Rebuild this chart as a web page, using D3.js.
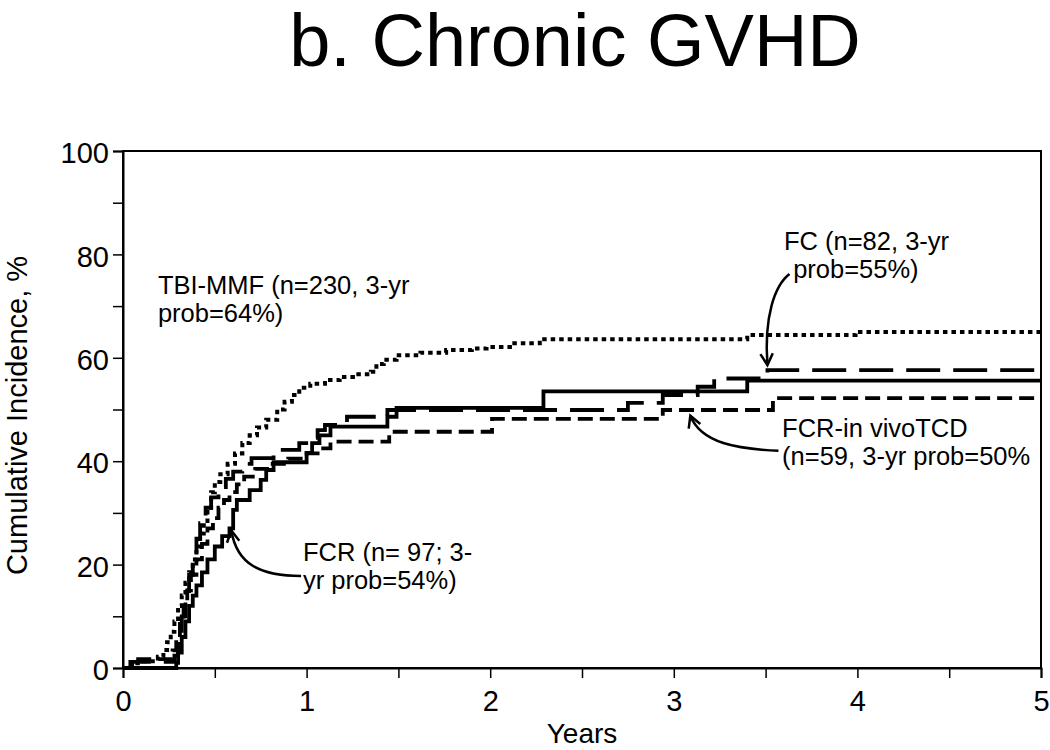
<!DOCTYPE html>
<html>
<head>
<meta charset="utf-8">
<script src="https://cdn.jsdelivr.net/npm/d3@7"></script>
<style>
  html, body { margin: 0; padding: 0; background: #fff; }
  svg { display: block; font-family: Arial, "Liberation Sans", Helvetica, sans-serif; }
</style>
</head>
<body>
<svg id="chart" width="1050" height="750"></svg>
<script>
// ---------------- DATA ----------------
const title = "b. Chronic GVHD";
const yTicks = [0, 10, 20, 30, 40, 50, 60, 70, 80, 90, 100];
const yTickLabels = ["0", "", "20", "", "40", "", "60", "", "80", "", "100"];
const xTicks = [0, 0.5, 1, 1.5, 2, 2.5, 3, 3.5, 4, 4.5, 5];
const xTickLabels = ["0", "", "1", "", "2", "", "3", "", "4", "", "5"];

// TBI-MMF (dotted)
const tbiTime = [0, 0.03, 0.06, 0.10, 0.19, 0.22, 0.24, 0.26, 0.28, 0.30, 0.32, 0.34, 0.36, 0.38, 0.40, 0.42, 0.44, 0.46, 0.48, 0.50, 0.53, 0.57, 0.61, 0.65, 0.69, 0.73, 0.78, 0.84, 0.88, 0.92, 0.96, 1.02, 1.10, 1.18, 1.27, 1.35, 1.38, 1.42, 1.49, 1.62, 1.76, 1.90, 1.98, 2.12, 2.27, 3.40, 3.99];
const tbiInc  = [0, 0.4, 0.9, 1.3, 2.2, 3.5, 5, 7, 9, 12, 14, 16.5, 18.5, 21, 23.5, 26, 28, 31, 34, 36, 37.5, 39.5, 41.5, 43.5, 45, 46.5, 48, 50, 51.5, 52.8, 54.2, 55, 55.7, 56.3, 56.8, 57.3, 58.8, 59.6, 60.5, 61, 61.5, 61.8, 62.1, 62.8, 63.6, 64.4, 65.0];

// FC (long dash)
const fcTime = [0, 0.04, 0.28, 0.30, 0.32, 0.34, 0.36, 0.38, 0.40, 0.42, 0.45, 0.48, 0.52, 0.56, 0.60, 0.65, 0.70, 0.82, 0.96, 1.02, 1.06, 1.10, 1.22, 1.44, 2.75, 2.94, 3.13, 3.22, 3.51];
const fcInc  = [0, 1.2, 2.4, 6, 10, 14, 18, 21, 25, 28, 31, 33, 35, 36.6, 38, 39.5, 40.6, 42.2, 43.5, 44.5, 46, 47, 48.6, 49.9, 51.3, 52.8, 54.4, 56.0, 57.6];

// FCR (solid)
const fcrTime = [0, 0.29, 0.30, 0.32, 0.34, 0.36, 0.38, 0.40, 0.43, 0.46, 0.50, 0.54, 0.58, 0.60, 0.62, 0.69, 0.75, 0.78, 0.82, 1.00, 1.03, 1.07, 1.13, 1.44, 1.49, 2.29, 3.40];
const fcrInc  = [0, 1, 3, 6, 9, 12, 14, 16, 18.5, 21, 23.5, 25.5, 27, 30.6, 32.5, 34.4, 36.4, 38.3, 39.8, 41.6, 43.5, 45, 46.7, 48.6, 50.3, 53.5, 55.6];

// FCR-in vivoTCD (short dash)
const tcdTime = [0, 0.05, 0.27, 0.29, 0.31, 0.33, 0.35, 0.37, 0.40, 0.43, 0.46, 0.49, 0.52, 0.55, 0.58, 0.62, 0.66, 0.72, 0.80, 0.90, 1.00, 1.06, 1.13, 1.45, 2.01, 2.94, 3.54];
const tcdInc  = [0, 1.7, 3.4, 6, 9, 12, 15, 18, 21, 24, 27, 29, 31, 32.5, 34, 35.5, 37, 38.5, 39.5, 40.5, 41.5, 42.5, 43.8, 45.7, 48.2, 49.9, 52.2];

const seriesNames = ["TBI-MMF", "FC", "FCR", "FCR-in vivoTCD"];

// ---------------- CHART ----------------
const svg = d3.select("#chart");
const x = d3.scaleLinear().domain([0, 5]).range([123, 1041]);
const y = d3.scaleLinear().domain([0, 100]).range([668, 151]);

// title
svg.append("text")
  .attr("x", 575).attr("y", 66)
  .attr("text-anchor", "middle")
  .attr("font-size", 74)
  .text(title);

// frame
svg.append("rect")
  .attr("x", x(0)).attr("y", y(100))
  .attr("width", x(5) - x(0)).attr("height", y(0) - y(100))
  .attr("fill", "none").attr("stroke", "#000").attr("stroke-width", 2);

// y axis
const yAxis = d3.axisLeft(y).tickValues(yTicks).tickSize(10).tickPadding(4)
  .tickFormat((d, i) => yTickLabels[i]);
const gy = svg.append("g").attr("transform", `translate(${x(0)},0)`).call(yAxis);
gy.select(".domain").attr("stroke-width", 2);
gy.selectAll(".tick line").attr("stroke-width", 1.5);
gy.selectAll(".tick text").attr("font-size", 29).attr("dy", "0.4em").attr("font-family", "Arial, 'Liberation Sans', sans-serif").attr("fill", "#000");

// x axis
const xAxis = d3.axisBottom(x).tickValues(xTicks).tickSize(10).tickPadding(12)
  .tickFormat((d, i) => xTickLabels[i]);
const gx = svg.append("g").attr("transform", `translate(0,${y(0)})`).call(xAxis);
gx.select(".domain").attr("stroke-width", 2);
gx.selectAll(".tick line").attr("stroke-width", 1.5);
gx.selectAll(".tick text").attr("font-size", 29).attr("font-family", "Arial, 'Liberation Sans', sans-serif").attr("fill", "#000");

// axis titles
svg.append("text")
  .attr("x", 582).attr("y", 743)
  .attr("text-anchor", "middle").attr("font-size", 28)
  .text("Years");
svg.append("text")
  .attr("transform", `translate(27,${(y(0) + y(100)) / 2 + 6}) rotate(-90)`)
  .attr("text-anchor", "middle").attr("font-size", 29)
  .text("Cumulative Incidence, %");

// curves
function toPoints(ts, ps) {
  const pts = ts.map((t, i) => [t, ps[i]]);
  pts.push([5, ps[ps.length - 1]]);
  return pts;
}
const line = d3.line().x(d => x(d[0])).y(d => y(d[1])).curve(d3.curveStepAfter);

const series = [
  { name: seriesNames[2], pts: toPoints(fcrTime, fcrInc), dash: null, w: 3.8 },
  { name: seriesNames[3], pts: toPoints(tcdTime, tcdInc), dash: "15,7", w: 3.8 },
  { name: seriesNames[1], pts: toPoints(fcTime, fcInc), dash: "34,13", w: 3.8 },
  { name: seriesNames[0], pts: toPoints(tbiTime, tbiInc), dash: "4.5,4", w: 4 }
];
svg.append("g").selectAll("path").data(series).join("path")
  .attr("d", d => line(d.pts))
  .attr("fill", "none")
  .attr("stroke", "#000")
  .attr("stroke-width", d => d.w)
  .attr("stroke-dasharray", d => d.dash)
  .attr("stroke-linejoin", "miter");

// annotations (data coordinates)
const annFont = 25.5;
function addText(lines, t, p, lh) {
  lines.forEach((s, i) => {
    svg.append("text").attr("font-size", annFont)
      .attr("x", x(t[i])).attr("y", y(p) + i * lh).text(s);
  });
}
addText(["TBI-MMF (n=230, 3-yr", "prob=64%)"], [0.19, 0.19], 72.4, 28);
addText(["FC (n=82, 3-yr", "prob=55%)"], [3.6, 3.65], 80.8, 28);
addText(["FCR-in vivoTCD", "(n=59, 3-yr prob=50%"], [3.59, 3.59], 44.6, 28);
addText(["FCR (n= 97; 3-", "yr prob=54%)"], [0.98, 0.98], 20.6, 28);

function arrow(p0, c1, c2, tip) {
  const P = [p0, c1, c2, tip].map(d => [x(d[0]), y(d[1])]);
  svg.append("path")
    .attr("d", `M${P[0][0]},${P[0][1]} C${P[1][0]},${P[1][1]} ${P[2][0]},${P[2][1]} ${P[3][0]},${P[3][1]}`)
    .attr("fill", "none").attr("stroke", "#000").attr("stroke-width", 2.5);
  const dx = P[3][0] - P[2][0], dy = P[3][1] - P[2][1];
  const a = Math.atan2(dy, dx), L = 13, s = 0.5;
  const h1 = [P[3][0] - L * Math.cos(a - s), P[3][1] - L * Math.sin(a - s)];
  const h2 = [P[3][0] - L * Math.cos(a + s), P[3][1] - L * Math.sin(a + s)];
  svg.append("path")
    .attr("d", `M${h1[0]},${h1[1]} L${P[3][0]},${P[3][1]} L${h2[0]},${h2[1]}`)
    .attr("fill", "none").attr("stroke", "#000").attr("stroke-width", 2.5);
}
arrow([3.63, 76.2], [3.55, 74], [3.49, 68], [3.51, 58.6]);
arrow([3.57, 42.0], [3.35, 42.4], [3.15, 43.4], [3.09, 48.8]);
arrow([0.97, 17.8], [0.75, 17.8], [0.62, 20], [0.59, 26.6]);
</script>
</body>
</html>
